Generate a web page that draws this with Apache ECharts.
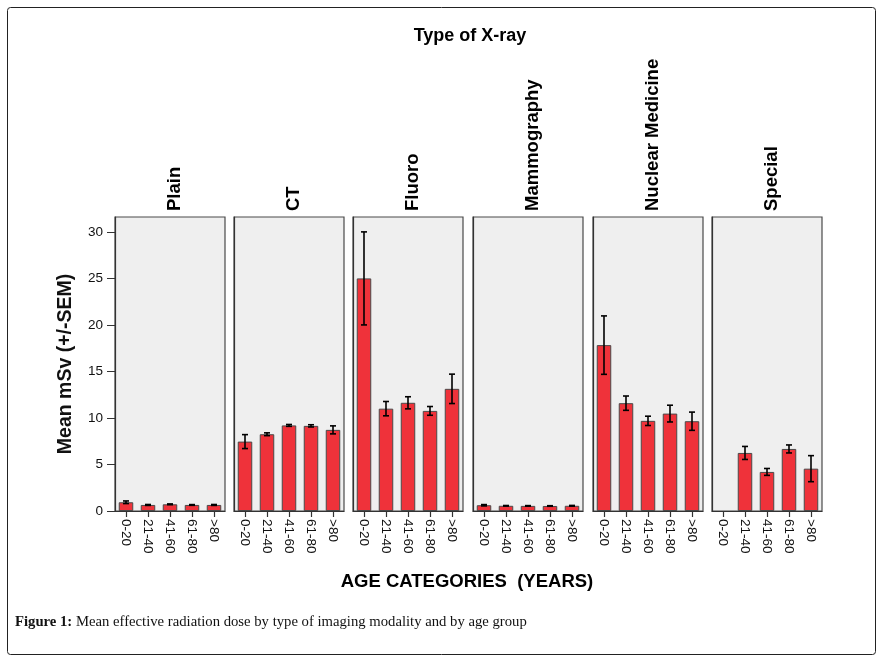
<!DOCTYPE html>
<html><head><meta charset="utf-8">
<script src="https://cdn.jsdelivr.net/npm/echarts@6/dist/echarts.min.js"></script>
<style>html,body{margin:0;padding:0;background:#fff}#c{width:883px;height:661px}</style>
</head><body><div id="c"></div>
<script>
const ages = ['0-20', '21-40', '41-60', '61-80', '>80'];
const types = ['Plain', 'CT', 'Fluoro', 'Mammography', 'Nuclear Medicine', 'Special'];
const yTicks = [0, 5, 10, 15, 20, 25, 30];
const plainMean = [0.94, 0.65, 0.72, 0.65, 0.65];
const plainSem = [0.14, 0.05, 0.04, 0.04, 0.05];
const ctMean = [7.46, 8.25, 9.2, 9.15, 8.72];
const ctSem = [0.75, 0.15, 0.1, 0.12, 0.43];
const fluoroMean = [25.0, 11.0, 11.63, 10.76, 13.13];
const fluoroSem = [5.0, 0.77, 0.65, 0.47, 1.58];
const mammoMean = [0.62, 0.56, 0.55, 0.54, 0.56];
const mammoSem = [0.07, 0.03, 0.03, 0.03, 0.04];
const nucMean = [17.83, 11.59, 9.69, 10.47, 9.65];
const nucSem = [3.14, 0.77, 0.5, 0.9, 0.98];
const specialMean = [null, 6.24, 4.2, 6.67, 4.55];
const specialSem = [null, 0.7, 0.37, 0.43, 1.4];

const means = [plainMean, ctMean, fluoroMean, mammoMean, nucMean, specialMean];
const sems = [plainSem, ctSem, fluoroSem, mammoSem, nucSem, specialSem];

const gridLefts = [115, 234, 353, 473, 593, 712];
const gridW = 110, gridTop = 217, gridH = 294;
const FONT = 'Liberation Sans, Arial, sans-serif';

const chart = echarts.init(document.getElementById('c'));
const grids = [], xAxes = [], yAxes = [], series = [], graphics = [];

types.forEach((t, i) => {
  grids.push({left: gridLefts[i], top: gridTop, width: gridW, height: gridH,
    show: true, backgroundColor: '#efefef', borderColor: '#4a4a4a', borderWidth: 1.2});
  xAxes.push({type: 'category', gridIndex: i, data: ages,
    axisLine: {show: true, lineStyle: {color: '#333', width: 1.2}},
    axisTick: {show: true, alignWithLabel: true, length: 6, lineStyle: {color: '#333', width: 1.2}},
    axisLabel: {rotate: -90, fontFamily: FONT, fontSize: 13.5, color: '#111', margin: 8, interval: 0}});
  yAxes.push({type: 'value', gridIndex: i, min: 0, max: 31.6, interval: 5,
    splitLine: {show: false},
    axisLine: {show: true, lineStyle: {color: '#333', width: 1.2}},
    axisTick: {show: i === 0, length: 8, lineStyle: {color: '#333'}},
    axisLabel: {show: i === 0, fontFamily: FONT, fontSize: 13.5, color: '#111', showMaxLabel: false, margin: 12},
    name: i === 0 ? 'Mean mSv (+/-SEM)' : '', nameLocation: 'middle', nameGap: 39,
    nameTextStyle: {fontFamily: FONT, fontSize: 19.5, fontWeight: 'bold', color: '#111'}});
  series.push({type: 'bar', xAxisIndex: i, yAxisIndex: i, data: means[i], barWidth: '66%',
    itemStyle: {color: '#ef323a', borderColor: '#4a4a4a', borderWidth: 1}, silent: true});
  const eb = [];
  means[i].forEach((m, k) => { if (m != null) eb.push([k, m - sems[i][k], m + sems[i][k]]); });
  series.push({type: 'custom', xAxisIndex: i, yAxisIndex: i, data: eb, silent: true, z: 5,
    renderItem: (params, api) => {
      const x = api.value(0);
      const lo = api.coord([x, api.value(1)]);
      const hi = api.coord([x, api.value(2)]);
      const cw = 3;
      const st = {stroke: '#000', lineWidth: 1.6};
      return {type: 'group', children: [
        {type: 'line', shape: {x1: lo[0], y1: lo[1], x2: hi[0], y2: hi[1]}, style: st},
        {type: 'line', shape: {x1: lo[0] - cw, y1: lo[1], x2: lo[0] + cw, y2: lo[1]}, style: st},
        {type: 'line', shape: {x1: hi[0] - cw, y1: hi[1], x2: hi[0] + cw, y2: hi[1]}, style: st}
      ]};
    }});
  graphics.push({type: 'text', x: gridLefts[i] + gridW / 2 + 5, y: 211, rotation: Math.PI / 2,
    style: {text: t, fontFamily: FONT, fontSize: 18.5, fontWeight: 'bold', fill: '#000',
      textAlign: 'left', textVerticalAlign: 'middle'}});
});

graphics.push({type: 'rect', shape: {x: 7.5, y: 7.5, width: 868, height: 647, r: 3},
  style: {fill: 'none', stroke: '#222', lineWidth: 1}, z: -1});
graphics.push({type: 'text', x: 470, y: 36,
  style: {text: 'Type of X-ray', fontFamily: 'Liberation Sans Narrow, ' + FONT, fontSize: 18, fontWeight: 'bold', fill: '#000',
    textAlign: 'center', textVerticalAlign: 'middle'}});
graphics.push({type: 'text', x: 467, y: 582,
  style: {text: 'AGE CATEGORIES  (YEARS)', fontFamily: FONT, fontSize: 18.5, fontWeight: 'bold', fill: '#000',
    textAlign: 'center', textVerticalAlign: 'middle'}});
graphics.push({type: 'text', x: 15, y: 622,
  style: {text: '{b|Figure 1:} Mean effective radiation dose by type of imaging modality and by age group',
    fontFamily: 'Liberation Serif, DejaVu Serif, serif', fontSize: 14.7, fill: '#111',
    textAlign: 'left', textVerticalAlign: 'middle',
    rich: {b: {fontFamily: 'Liberation Serif, DejaVu Serif, serif', fontSize: 14.7, fontWeight: 'bold', fill: '#111'}}}});

chart.setOption({animation: false, grid: grids, xAxis: xAxes, yAxis: yAxes, series: series, graphic: graphics});
</script></body></html>
